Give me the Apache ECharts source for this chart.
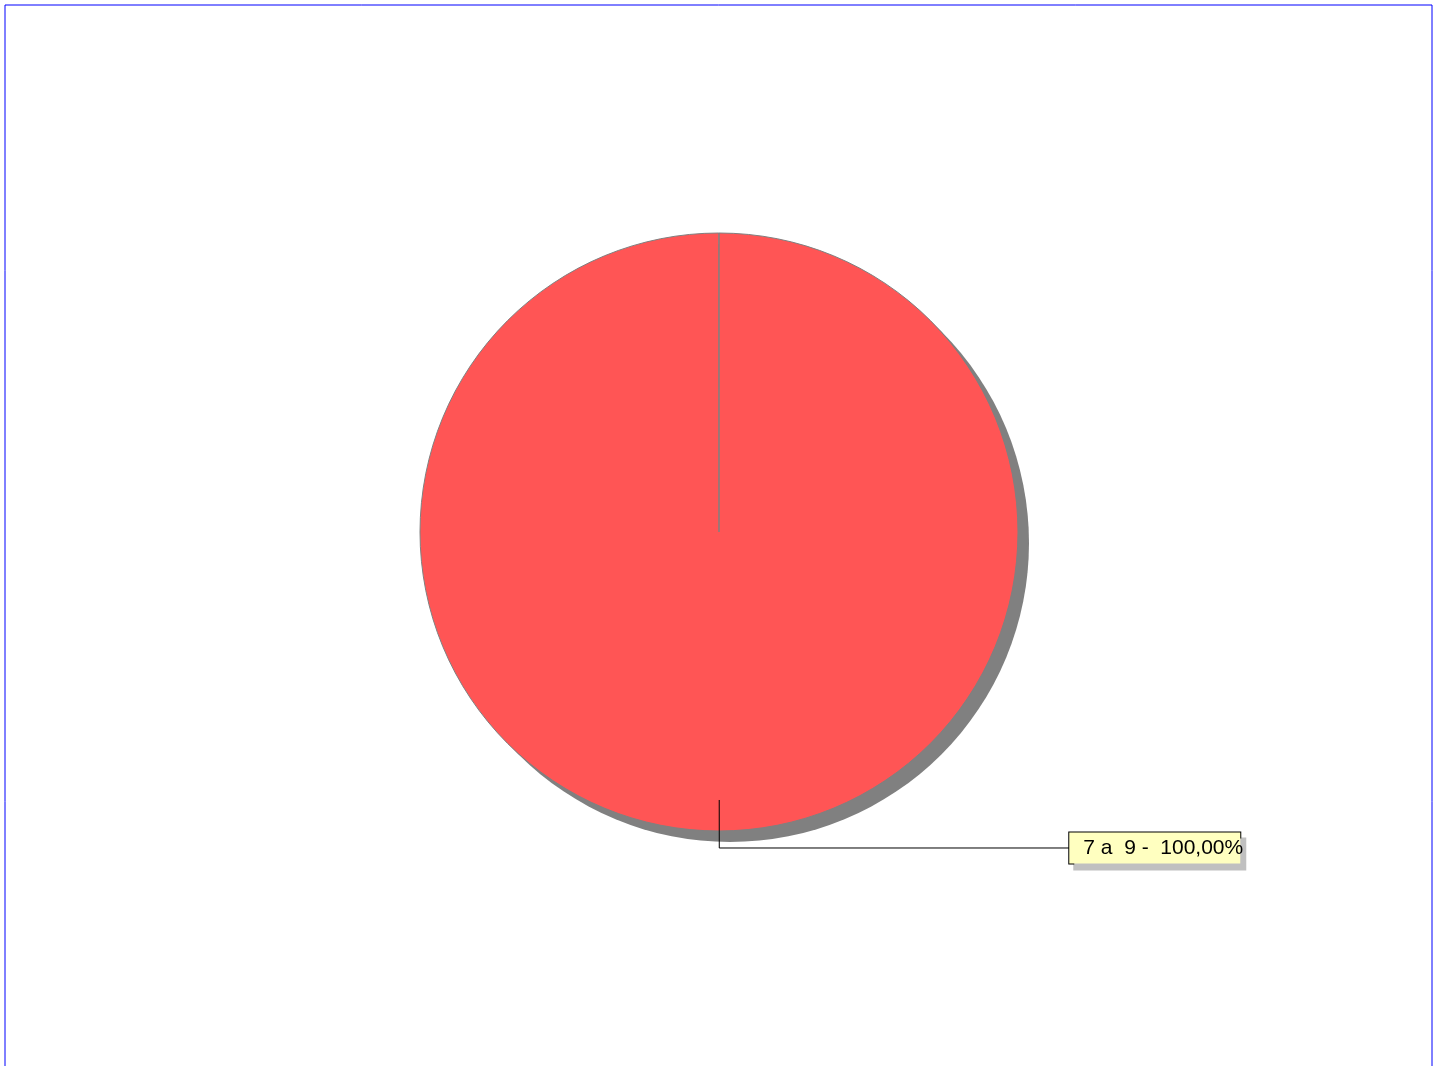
<!DOCTYPE html>
<html>
<head>
<meta charset="utf-8">
<script src="https://cdn.jsdelivr.net/npm/echarts@6/dist/echarts.min.js"></script>
<style>
html,body{margin:0;padding:0;background:#fff;}
#c{width:1440px;height:1066px;}
</style>
</head>
<body>
<div id="c"></div>
<script>
const categories = ['7 a  9'];
const values = [100];

const chart = echarts.init(document.getElementById('c'), null, {renderer: 'canvas'});

function fmt(p) {
  return p.name + ' -  ' + p.percent.toFixed(2).replace('.', ',') + '%';
}
const pieData = () => categories.map((c, i) => ({name: c, value: values[i]}));

chart.setOption({
  animation: false,
  backgroundColor: '#ffffff',
  graphic: [{
    type: 'rect',
    shape: {x: 5, y: 5, width: 1427, height: 1100},
    style: {fill: 'none', stroke: '#0000ff', lineWidth: 1},
    silent: true
  }],
  series: [
    {
      // drop shadow of the pie
      type: 'pie',
      center: [730, 543],
      radius: 299,
      startAngle: 90,
      silent: true,
      z: 1,
      label: {show: false},
      labelLine: {show: false},
      emphasis: {disabled: true},
      itemStyle: {color: '#808080', borderWidth: 0},
      data: pieData()
    },
    {
      type: 'pie',
      center: [719, 532],
      radius: 299,
      startAngle: 90,
      endAngle: -269.98,
      clockwise: true,
      silent: true,
      z: 2,
      label: {show: false},
      labelLine: {show: false},
      emphasis: {disabled: true},
      itemStyle: {
        color: '#FF5555',
        borderColor: '#808080',
        borderWidth: 1
      },
      data: pieData()
    },
    {
      type: 'pie',
      center: [719, 532],
      radius: [0, 268],
      startAngle: 90.05,
      clockwise: true,
      silent: true,
      z: 5,
      emphasis: {disabled: true},
      avoidLabelOverlap: false,
      itemStyle: {color: 'rgba(0,0,0,0)', borderWidth: 0, borderColor: 'rgba(0,0,0,0)'},
      label: {
        show: true,
        position: 'outside',
        formatter: fmt,
        fontFamily: 'Liberation Sans, Arial, sans-serif',
        fontSize: 21,
        color: '#000',
        backgroundColor: '#FFFFC0',
        borderColor: '#000',
        borderWidth: 1,
        padding: [6, 0, 4, 14],
        width: 157,
        height: 21,
        lineHeight: 21,
        overflow: 'none',
        shadowColor: '#C0C0C0',
        shadowBlur: 0,
        shadowOffsetX: 5,
        shadowOffsetY: 6,
        distanceToLabelLine: 0
      },
      labelLine: {
        show: true,
        length: 48,
        length2: 350,
        smooth: false,
        lineStyle: {color: '#000', width: 1, opacity: 1}
      },
      data: pieData()
    }
  ]
});
</script>
</body>
</html>
